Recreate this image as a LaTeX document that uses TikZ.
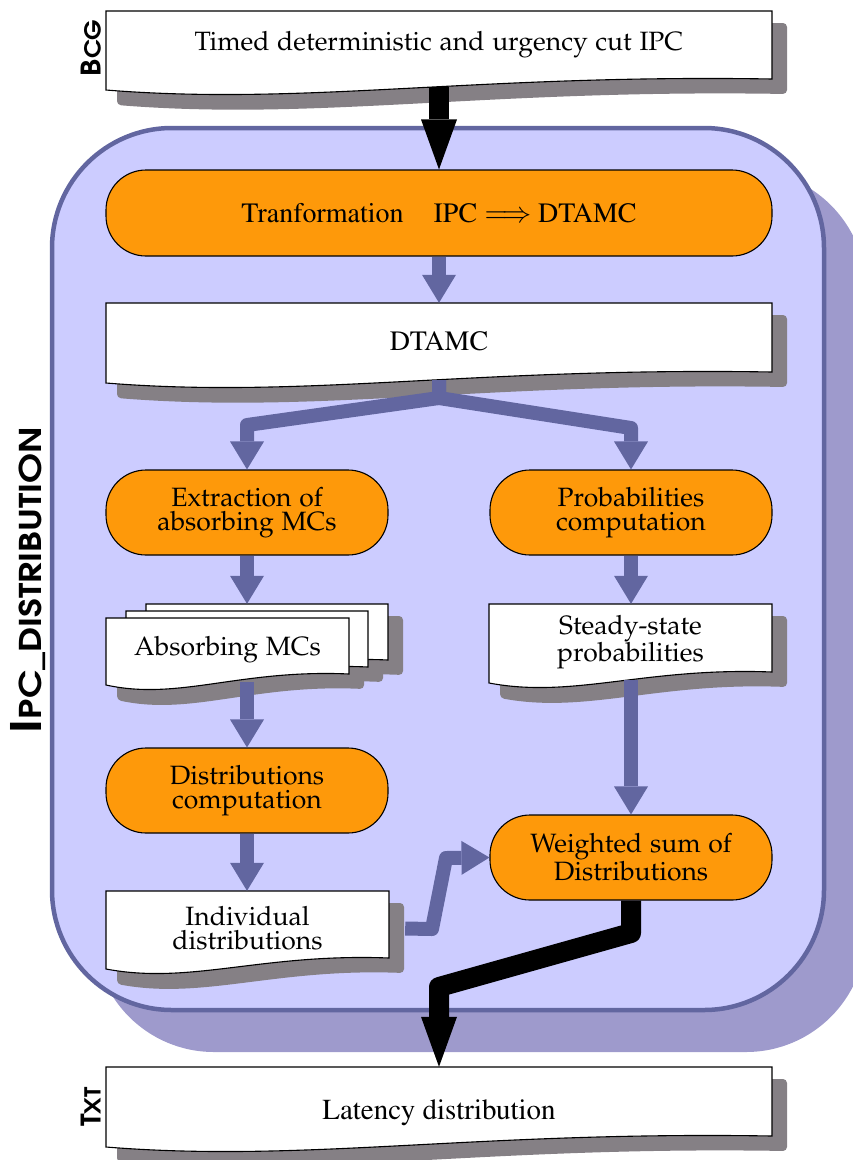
\documentclass[tikz,border=0pt]{standalone}
\usepackage[T1]{fontenc}
\usepackage{mathpazo}
\usepackage{graphicx}
\usetikzlibrary{arrows.meta,calc}
\definecolor{orangefill}{RGB}{254,153,10}
\definecolor{panelfill}{RGB}{204,204,255}
\definecolor{paneldraw}{RGB}{98,102,160}
\definecolor{panelshade}{RGB}{158,154,204}
\definecolor{docshade}{RGB}{133,128,133}
\definecolor{bluearr}{RGB}{98,102,160}

\newcommand\palf{\fontfamily{pplx}\selectfont}
\newcommand\tmsf{\fontfamily{ptm}\selectfont}
\newcommand\hvf{\fontfamily{pag}\fontseries{db}\selectfont}

\tikzset{
  docbody/.style={fill=white, draw=black, line width=1.1pt},
  docshadow/.style={fill=docshade, rounded corners=4pt},
  doctext/.style={inner sep=0pt, align=center, font={\palf\fontsize{26.5}{24}\selectfont}},
  procbox/.style={rectangle, rounded corners=40pt, fill=orangefill, draw=black, line width=1.1pt, inner sep=0pt, align=center, font={\palf\fontsize{26.5}{24}\selectfont}},
  bluearrow/.style={draw=bluearr, line width=14pt, line join=round, -{Triangle[width=34pt,length=28pt,line width=0pt]}},
  blackarrow/.style={draw=black, line width=20pt, line join=round, -{Triangle[width=36pt,length=50pt,line width=0pt]}},
  sidelabel/.style={rotate=90, inner sep=0pt},
}

\newcommand\docshadowpath[4]{%
  \fill[docshadow] ({#1+11},{#2+12}) -- ({#3+15},{#2+12}) -- ({#3+15},{#4+4}) .. controls ({#1+0.55*(#3-#1)+13},{#4-1}) and ({#1+0.3*(#3-#1)+13},{#4+31}) .. ({#1+11},{#4+15}) -- cycle;}
\newcommand\docbodypath[4]{%
  \filldraw[docbody] (#1,#2) -- (#3,#2) -- (#3,{#4-11}) .. controls ({#1+0.55*(#3-#1)},{#4-16}) and ({#1+0.3*(#3-#1)},{#4+16}) .. (#1,#4) -- cycle;}
\newcommand\docnode[6]{%
  \node[doctext, minimum width={#4-#2}, minimum height={#5-3-#3}] (#1) at ({(#2+#4)/2},{(#3+#5-3)/2}) {#6};}
\newcommand\docbox[6]{\docshadowpath{#2}{#3}{#4}{#5}\docbodypath{#2}{#3}{#4}{#5}\docnode{#1}{#2}{#3}{#4}{#5}{#6}}

\begin{document}
\begin{tikzpicture}[x=1pt,y=-1pt]
\useasboundingbox (0,0) rectangle (853,1160);
\clip (0,0) rectangle (853,1160);

% panel
\fill[panelshade, rounded corners=120pt] (94,170) rectangle (866,1052);
\filldraw[fill=panelfill, draw=paneldraw, line width=4.5pt, rounded corners=120pt] (52,128) rectangle (824,1010);

% documents
\docbox{top}{106}{11}{772}{90}{\raisebox{4pt}[\height][\depth]{Timed deterministic and urgency cut IPC}}
\docbox{dtamc}{106}{303}{772}{383}{\tmsf\fontsize{28}{28}\selectfont DTAMC}
\docbox{steady}{489}{604}{772}{683}{Steady-state\\probabilities}
\docbox{indiv}{106}{891}{389}{969}{Individual\\distributions}
\docbox{lat}{106}{1067}{772}{1147}{\raisebox{-7pt}[\height][\depth]{\tmsf\fontsize{29}{29}\selectfont Latency distribution}}

% stacked documents
\docshadowpath{146}{604}{388}{671}
\docshadowpath{126}{611}{368}{678}
\docshadowpath{106}{618}{349}{685}
\docbodypath{146}{604}{388}{671}
\docbodypath{126}{611}{368}{678}
\docbodypath{106}{618}{349}{685}
\docnode{absback}{146}{604}{388}{671}{}
\docnode{abs}{106}{618}{349}{685}{Absorbing MCs}

% processes
\node[procbox, minimum width=666, minimum height=86, font={\tmsf\fontsize{28}{28}\selectfont}] (trans) at (439,213) {Tranformation\hspace{30pt}IPC\hspace{7pt}$\Longrightarrow$\hspace{6pt}DTAMC};
\node[procbox, minimum width=282, minimum height=85] (ext) at (247,512.5) {Extraction of\\absorbing MCs};
\node[procbox, minimum width=282, minimum height=85] (prob) at (631,512.5) {Probabilities\\computation};
\node[procbox, minimum width=282, minimum height=85] (dist) at (247,790.5) {Distributions\\computation};
\node[procbox, minimum width=282, minimum height=85] (wsum) at (631,857.5) {Weighted sum of\\Distributions};

% side labels
\node[sidelabel] (lbcg) at (91,48) {\scalebox{1.1}[1]{\hvf\fontsize{27}{27}\selectfont B\fontsize{22}{22}\selectfont CG}};
\node[sidelabel] (lipc) at (28,580) {\scalebox{1.2}[1]{\hvf\fontsize{42}{42}\selectfont I\fontsize{30}{30}\selectfont PC\_DISTRIBUTION}};
\node[sidelabel] (ltxt) at (91,1107) {\scalebox{1.1}[1]{\hvf\fontsize{27}{27}\selectfont T\fontsize{22}{22}\selectfont XT}};

% connectors
\coordinate (jn) at (439,398);
\coordinate (bl) at (247,425);
\coordinate (br) at (631,428);
\coordinate (c1) at (432,929);
\coordinate (c2) at (446,858);
\coordinate (k1) at (631,933);
\coordinate (k2) at (439,987);

\draw[blackarrow] (top.south) -- (trans.north);
\draw[bluearrow] (trans.south) -- (dtamc.north);
\draw[bluearrow] (dtamc.south) -- (jn) -- (bl) -- (ext.north);
\draw[bluearrow] (dtamc.south) -- (jn) -- (br) -- (prob.north);
\draw[bluearrow] (ext.south) -- (ext.south |- absback.north);
\draw[bluearrow] (dist.north |- abs.south) -- (dist.north);
\draw[bluearrow] (dist.south) -- (dist.south |- indiv.north);
\draw[bluearrow] (prob.south) -- (prob.south |- steady.north);
\draw[bluearrow] (wsum.north |- steady.south) -- (wsum.north);
\draw[bluearrow] ([xshift=16pt]indiv.east) -- (c1) -- (c2) -- (wsum.west);
\draw[blackarrow] (wsum.south) -- (k1) -- (k2) -- (lat.north);
\end{tikzpicture}
\end{document}
